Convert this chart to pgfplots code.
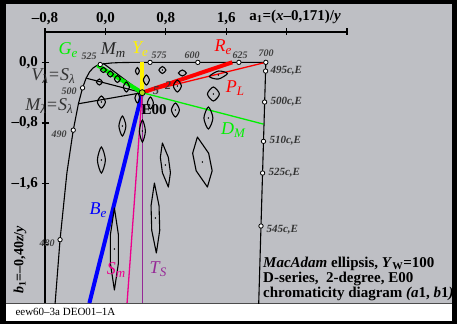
\documentclass[border=0pt]{standalone}
\usepackage{pgfplots}
\pgfplotsset{compat=1.18}
\usepackage{fontspec}
\setmainfont{Liberation Serif}
\definecolor{bg}{RGB}{190,191,196}
\definecolor{tsp}{RGB}{150,40,150}
\definecolor{gr}{RGB}{0,240,0}
\newcommand\clab[3]{\textcolor{#1}{\fontsize{18}{18}\selectfont\itshape #2\raisebox{-2.5pt}{\fontsize{13}{13}\selectfont #3}}}
\newcommand\sub[1]{\raisebox{-2.5pt}{\fontsize{13}{13}\selectfont #1}}
\begin{document}
\begin{tikzpicture}[x=1pt,y=1pt]
\fill[black] (0,0) rectangle (457,324);
\fill[white] (6,3) rectangle (452,21);
\fill[bg] (6,21) rectangle (452,320);
\draw[black!70, line width=0.6pt] (6,21) -- (452,21);
\begin{axis}[
  at={(45pt,21pt)}, anchor=south west,
  scale only axis, width=302pt, height=271pt,
  xmin=-0.8, xmax=3.2, ymin=-3.174, ymax=0.4,
  axis x line*=top, axis y line*=left,
  axis line style={line width=1.2pt, -},
  tick align=center, major tick length=7pt,
  tick style={line width=1.2pt, black},
  xtick={-0.8,0,0.8,1.6,2.4,3.2},
  xticklabels={{–0,8},{0,0},{0,8},{1,6},{},{}},
  ytick={0,-0.8,-1.6,-2.4},
  yticklabels={{0,0},{–0,8},{–1,6},{}},
  ticklabel style={font=\bfseries\fontsize{15}{15}\selectfont},
]
% spectral locus
\addplot[black, line width=1.1pt] coordinates {(-0.707,-3.703) (-0.6006,-2.339) (-0.5097,-1.456) (-0.4258,-0.8944) (-0.3574,-0.5465) (-0.3024,-0.3369) (-0.2552,-0.2085) (-0.2095,-0.1258) (-0.1627,-0.0734) (-0.116,-0.0441) (-0.0687,-0.0289) (-0.0202,-0.0196) (0.0777,-0.0085) (0.1886,-0.0035) (0.3236,-0.0015) (0.5917,-0.0008) (1.224,-0.0007) (1.768,-0.0005) (2.125,0)};
% purple boundary (complementary)
\addplot[black, line width=1.1pt] coordinates {(2.125,0) (2.03,-3.2)};
% lines to E00
\addplot[black, line width=1.1pt] coordinates {(-0.2552,-0.2085) (0.487,-0.4)};
\addplot[black, line width=1.1pt] coordinates {(-0.3574,-0.5465) (0.487,-0.4)};
\addplot[black, line width=1.1pt] coordinates {(-0.03,-0.012) (0.487,-0.4)};
\addplot[gr, line width=4pt] coordinates {(-0.106,-0.038) (0.487,-0.4)};
\addplot[yellow, line width=4pt] coordinates {(0.487,0) (0.487,-0.4)};
\addplot[red, line width=4pt] coordinates {(1.68,0) (0.487,-0.4)};
\addplot[red, line width=1.3pt] coordinates {(2.125,0) (0.487,-0.4)};
\addplot[gr, line width=1.3pt] coordinates {(2.093,-0.815) (0.487,-0.4)};
\addplot[blue, line width=4pt] coordinates {(0.487,-0.4) (-0.212,-3.174)};
\addplot[magenta, line width=1.3pt] coordinates {(0.487,-0.4) (0.287,-3.174)};
\addplot[tsp, line width=1.3pt] coordinates {(0.487,-0.4) (0.487,-3.174)};
% ellipses (round)
\pgfplotsset{ell/.style={black, line width=1.1pt, smooth cycle}}
\addplot[ell] coordinates {(0.0132,-0.1015) (-0.0265,-0.0685) (-0.0662,-0.1015) (-0.0265,-0.1345)};
\addplot[ell] coordinates {(0.1059,-0.1543) (0.0662,-0.1147) (0.0265,-0.1543) (0.0662,-0.1939)};
\addplot[ell] coordinates {(0.1986,-0.2202) (0.1589,-0.174) (0.1192,-0.2202) (0.1589,-0.2664)};
\addplot[ell] coordinates {(0.3178,-0.3257) (0.2781,-0.2598) (0.2384,-0.3257) (0.2781,-0.3916)};
\addplot[ell] coordinates {(-0.0398,-0.2598) (-0.0795,-0.2202) (-0.1192,-0.2598) (-0.0795,-0.2994)};
\addplot[ell] coordinates {(0,-0.5235) (-0.053,-0.4444) (-0.106,-0.5235) (-0.053,-0.6026)};
\addplot[ell] coordinates {(0.4503,-0.1147) (0.4238,-0.0685) (0.3973,-0.1147) (0.4238,-0.1609)};
\addplot[ell] coordinates {(0.5827,-0.2334) (0.543,-0.1675) (0.5033,-0.2334) (0.543,-0.2993)};
\addplot[ell] coordinates {(0.4569,-0.4708) (0.4238,-0.4049) (0.3907,-0.4708) (0.4238,-0.5367)};
\addplot[ell] coordinates {(0.8014,-0.1015) (0.755,-0.0553) (0.7086,-0.1015) (0.755,-0.1477)};
\addplot[ell] coordinates {(1.0729,-0.1411) (1.0199,-0.1015) (0.9669,-0.1411) (1.0199,-0.1807)};
\addplot[ell] coordinates {(1.0066,-0.3125) (0.9536,-0.2334) (0.9006,-0.3125) (0.9536,-0.3916)};
\addplot[ell] coordinates {(1.6159,-0.1475) (1.4967,-0.1148) (1.3775,-0.1875) (1.4967,-0.2202)};
\addplot[ell] coordinates {(1.51,-0.418) (1.4305,-0.3257) (1.351,-0.418) (1.4305,-0.5103)};
\addplot[ell] coordinates {(0.9802,-0.629) (0.9272,-0.5367) (0.8742,-0.629) (0.9272,-0.7213)};
\addplot[ell] coordinates {(0.6357,-0.5367) (0.596,-0.4576) (0.5563,-0.5367) (0.596,-0.6158)};
\addplot[ell] coordinates {(1.4238,-0.7345) (1.3642,-0.5895) (1.3046,-0.7345) (1.3642,-0.8795)};
\addplot[ell] coordinates {(0.2716,-0.84) (0.2252,-0.7081) (0.1788,-0.84) (0.2252,-0.9719)};
\addplot[ell] coordinates {(0.5298,-0.906) (0.4901,-0.761) (0.4504,-0.906) (0.4901,-1.051)};
\addplot[ell] coordinates {(0,-1.2884) (-0.053,-1.117) (-0.106,-1.2884) (-0.053,-1.4598)};
% ellipses (lens shaped)
\pgfplotsset{lens/.style={black, line width=1.1pt, line join=round, line cap=round}}
\addplot[lens] coordinates {(0.755,-1.0642) (0.8337,-1.2528) (0.8613,-1.4558) (0.834,-1.6444) (0.7553,-1.4558) (0.7277,-1.2528) (0.755,-1.0642)};
\addplot[lens] coordinates {(1.2185,-0.985) (1.3676,-1.1993) (1.414,-1.4301) (1.351,-1.6444) (1.202,-1.4301) (1.1556,-1.1993) (1.2185,-0.985)};
\addplot[lens] coordinates {(0.649,-1.5917) (0.7105,-1.8917) (0.7196,-2.2147) (0.675,-2.5147) (0.6136,-2.2147) (0.6045,-1.8917) (0.649,-1.5917)};
\addplot[lens] coordinates {(0.1192,-1.9213) (0.1722,-2.2728) (0.1722,-2.6512) (0.1192,-3.0027) (0.0662,-2.6512) (0.0662,-2.2728) (0.1192,-1.9213)};
% ellipse centres
\addplot[only marks, mark=*, mark size=0.5pt, black] coordinates {(-0.053,-0.5235) (0.755,-0.1015) (0.9536,-0.3125) (1.4305,-0.418) (0.9272,-0.629) (1.3642,-0.7345) (0.2252,-0.84) (0.4901,-0.906) (-0.053,-1.2884) (0.7947,-1.3543) (1.2848,-1.3147) (0.6623,-2.0532) (0.1192,-2.462) (1.4967,-0.1675)};
% locus and complementary markers
\addplot[only marks, mark=*, mark size=2.2pt, mark options={fill=white, draw=black, line width=0.8pt}] coordinates {(-0.6006,-2.339) (-0.4258,-0.8944) (-0.3024,-0.3369) (-0.0687,-0.0289) (0.5917,-0.0008) (1.224,-0.0007) (1.768,-0.0005) (2.125,0) (2.122,-0.115) (2.109,-0.524) (2.094,-1.042) (2.082,-1.46) (2.061,-2.159)};
\addplot[only marks, mark=*, mark size=3pt, mark options={fill=yellow!70!green, draw=black, line width=0.8pt}] coordinates {(0.487,-0.4)};
\end{axis}
% axis titles
\node[font=\bfseries\fontsize{15}{15}\selectfont] at (295,307) {a\textsubscript{1}=(\textit{x}–0,171)/\textit{y}};
\node[font=\bfseries\fontsize{14}{14}\selectfont, rotate=90] at (20,64) {\textit{b}\textsubscript{1}=–0,40\textit{z}/\textit{y}};
% coloured labels
\node at (68,274) {\clab{gr}{G}{e}};
\node at (113,274) {\clab{black!85}{M}{m}};
\node at (140,275) {\clab{yellow}{Y}{e}};
\node at (223,277) {\clab{red}{R}{e}};
\node at (235,236) {\clab{red}{P}{L}};
\node at (233,194) {\clab{gr}{D}{M}};
\node at (98,114) {\clab{blue}{B}{e}};
\node at (116,54) {\clab{magenta}{S}{m}};
\node at (158,55) {\clab{tsp}{T}{S}};
\node[text=black!80, font=\fontsize{18}{18}\selectfont\itshape] at (53,248) {V\sub{λ}=S\sub{λ}};
\node[text=black!80, font=\fontsize{18}{18}\selectfont\itshape] at (49,218) {M\sub{λ}=S\sub{λ}};
\node[font=\bfseries\fontsize{15}{15}\selectfont] at (154,214) {E00};
\node[font=\bfseries\itshape\fontsize{12}{12}\selectfont, text=black!80] at (156,233) {5};
\node[font=\bfseries\itshape\fontsize{12}{12}\selectfont, text=black!80] at (168,238) {2};
% wavelength labels
\begin{scope}[every node/.style={font=\bfseries\itshape\fontsize{10}{10}\selectfont, text=black!75}]
\node at (89,268) {525};
\node at (159,269) {575};
\node at (192,269) {600};
\node at (240,269) {625};
\node at (266,271) {700};
\node at (69,233) {500};
\node at (59,190) {490};
\node at (47,81) {480};
\end{scope}
\begin{scope}[every node/.style={anchor=west, font=\bfseries\itshape\fontsize{11}{11}\selectfont, text=black!80}]
\node at (267,253) {495c,E};
\node at (267,222) {500c,E};
\node at (266,183) {510c,E};
\node at (265,151) {525c,E};
\node at (263,94) {545c,E};
\end{scope}
% legend text
\begin{scope}[every node/.style={anchor=base west, font=\bfseries\fontsize{15}{15}\selectfont, inner sep=0pt}]
\node at (263,57) {\textit{MacAdam} ellipsis, \textit{Y}\textsubscript{W}=100};
\node at (263,42) {D-series,\ \ 2-degree, E00};
\node at (263,27) {chromaticity diagram \textit{(a}1, \textit{b}1\textit{)}};
\end{scope}
\node[anchor=west, font=\fontsize{11}{11}\selectfont] at (12,12) {eew60–3a DEO01–1A};
\pgfresetboundingbox
\useasboundingbox (0,0) rectangle (457,324);
\end{tikzpicture}
\end{document}
